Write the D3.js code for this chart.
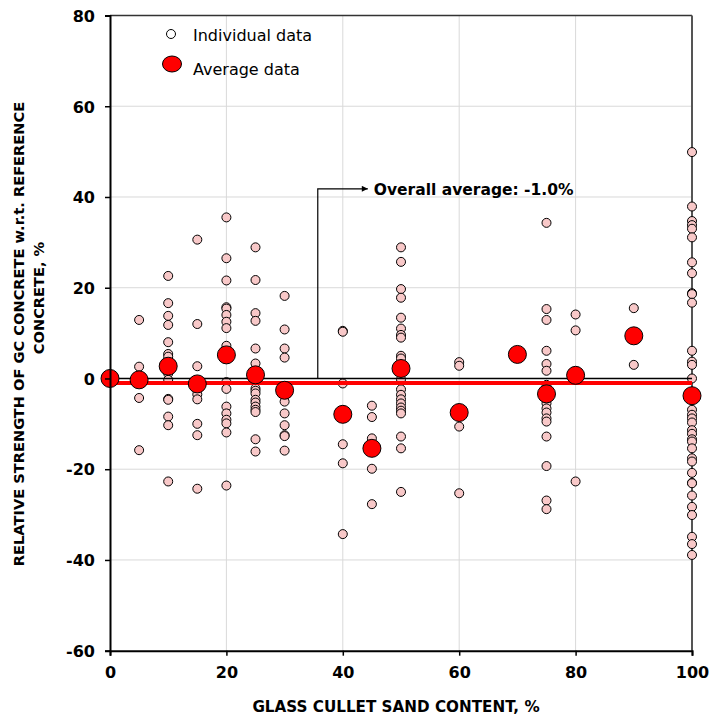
<!DOCTYPE html>
<html><head><meta charset="utf-8">
<script src="https://cdn.jsdelivr.net/npm/d3@7"></script>
<style>body{margin:0;background:#fff;}svg{display:block;}</style>
</head><body>
<svg id="chart" width="711" height="715"></svg>
<script>
// ---- data ----
const groupX = [5, 10, 15, 20, 25, 30, 40, 45, 50, 60, 75, 80, 90, 100];
const indiv5 = [12.9, 2.6, -4.3, -15.8];
const indiv10 = [22.6, 16.6, 13.8, 11.8, 8.0, 5.4, 4.8, 1.1, -0.3, -4.5, -4.7, -8.4, -10.3, -22.7];
const indiv15 = [30.6, 12.0, 2.7, -3.5, -4.6, -10.0, -12.5, -24.3];
const indiv20 = [35.5, 26.5, 21.6, 15.7, 15.4, 14.0, 12.5, 11.1, 7.2, -0.8, -2.3, -6.2, -7.7, -9.1, -9.9, -11.9, -23.6];
const indiv25 = [28.9, 21.7, 14.4, 12.7, 6.6, 3.3, -2.2, -2.7, -3.3, -4.7, -5.3, -6.2, -6.9, -7.4, -13.4, -16.1];
const indiv30 = [18.2, 10.8, 6.6, 4.6, -5.1, -7.7, -10.3, -12.5, -12.7, -15.9];
const indiv40 = [10.5, 10.3, -1.1, -14.5, -18.7, -34.3];
const indiv45 = [-6.0, -8.5, -13.2, -19.9, -27.7];
const indiv50 = [28.9, 25.7, 19.7, 17.8, 13.4, 11.0, 9.6, 9.0, 5.0, 4.4, -0.2, -2.4, -3.6, -4.6, -5.5, -6.4, -7.1, -7.7, -12.8, -15.4, -25.0];
const indiv60 = [3.6, 2.8, -10.6, -25.3];
const indiv75 = [34.3, 15.3, 12.9, 6.1, 3.2, 1.7, -1.4, -5.5, -6.6, -7.5, -8.8, -9.5, -12.8, -19.3, -26.9, -28.8];
const indiv80 = [14.1, 10.6, -22.7];
const indiv90 = [15.5, 3.0];
const indiv100 = [49.9, 37.9, 34.7, 33.8, 33.0, 31.1, 25.6, 23.2, 18.8, 18.6, 16.7, 6.1, 3.7, 3.0, 0.0,
  -6.9, -8.0, -8.8, -9.7, -11.4, -12.2, -13.4, -13.9, -15.4, -17.6, -18.3, -20.8, -23.0, -23.1, -25.8, -28.3, -30.1, -34.9, -36.5, -38.9];
const groupValues = [indiv5, indiv10, indiv15, indiv20, indiv25, indiv30, indiv40, indiv45, indiv50, indiv60, indiv75, indiv80, indiv90, indiv100];

const avgX = [0, 5, 10, 15, 20, 25, 30, 40, 45, 50, 60, 70, 75, 80, 90, 100];
const avgY = [0, -0.3, 2.7, -1.2, 5.2, 0.8, -2.6, -7.9, -15.4, 2.2, -7.5, 5.3, -3.4, 0.7, 9.4, -3.8];
const overallAverage = -1.0;

const xTicks = [0, 20, 40, 60, 80, 100];
const yTicks = [-60, -40, -20, 0, 20, 40, 60, 80];

const xTitle = "GLASS CULLET SAND CONTENT, %";
const yTitleLines = ["RELATIVE STRENGTH OF GC CONCRETE w.r.t. REFERENCE", "CONCRETE, %"];
const annotationText = "Overall average: -1.0%";
const legendLabels = ["Individual data", "Average data"];

// ---- layout ----
const W = 711, H = 715;
const m = {left: 110, right: 19, top: 15.5, bottom: 64.3};
const svg = d3.select("#chart");
const x = d3.scaleLinear().domain([0, 100]).range([m.left, W - m.right]);
const y = d3.scaleLinear().domain([-60, 80]).range([H - m.bottom, m.top]);

const boldFont = "'DejaVu Sans', Verdana, sans-serif";

// gridlines
const g = svg.append("g");
g.selectAll("line.gx").data(xTicks.filter(d => d > 0 && d < 100)).join("line")
  .attr("x1", d => x(d)).attr("x2", d => x(d)).attr("y1", y(-60)).attr("y2", y(80))
  .attr("stroke", "#d9d9d9").attr("stroke-width", 1);
g.selectAll("line.gy").data(yTicks.filter(d => d > -60 && d < 80)).join("line")
  .attr("x1", x(0)).attr("x2", x(100)).attr("y1", d => y(d)).attr("y2", d => y(d))
  .attr("stroke", "#d9d9d9").attr("stroke-width", 1);

// frame top & right
svg.append("line").attr("x1", x(0)).attr("x2", x(100)).attr("y1", y(80)).attr("y2", y(80))
  .attr("stroke", "#333").attr("stroke-width", 1.5);
svg.append("line").attr("x1", x(100)).attr("x2", x(100)).attr("y1", y(80)).attr("y2", y(-60))
  .attr("stroke", "#555").attr("stroke-width", 2);

// individual points
const pts = [];
groupX.forEach((gx, i) => groupValues[i].forEach(v => pts.push([gx, v])));
svg.append("g").selectAll("circle").data(pts).join("circle")
  .attr("cx", d => x(d[0])).attr("cy", d => y(d[1])).attr("r", 4.5)
  .attr("fill", "#f8c8c8").attr("stroke", "#000").attr("stroke-width", 1);

// zero line & overall average line
svg.append("line").attr("x1", x(0)).attr("x2", x(100)).attr("y1", y(0)).attr("y2", y(0))
  .attr("stroke", "#000").attr("stroke-width", 1.5);
svg.append("line").attr("x1", x(0)).attr("x2", x(100)).attr("y1", y(overallAverage)).attr("y2", y(overallAverage))
  .attr("stroke", "#ff0000").attr("stroke-width", 4);

// average points
svg.append("g").selectAll("circle").data(avgX.map((d, i) => [d, avgY[i]])).join("circle")
  .attr("cx", d => x(d[0])).attr("cy", d => y(d[1])).attr("r", 9)
  .attr("fill", "#ff0000").attr("stroke", "#000").attr("stroke-width", 1);

// axes
const xAxis = d3.axisBottom(x).tickValues(xTicks).tickSize(5).tickFormat(d => String(d));
const yAxis = d3.axisLeft(y).tickValues(yTicks).tickSize(5).tickFormat(d => String(d));
const gx = svg.append("g").attr("transform", `translate(0,${y(-60)})`).call(xAxis);
const gy = svg.append("g").attr("transform", `translate(${x(0)},0)`).call(yAxis);
[gx, gy].forEach(a => {
  a.select(".domain").attr("stroke", "#000").attr("stroke-width", 2);
  a.selectAll(".tick line").attr("stroke", "#000").attr("stroke-width", 1.5);
  a.selectAll(".tick text").attr("font-family", boldFont).attr("font-weight", "bold")
    .attr("font-size", 16).attr("fill", "#000");
});
gx.selectAll(".tick text").attr("dy", null).attr("y", 27);
gy.selectAll(".tick text").attr("x", -15).attr("dy", "0.36em");

// axis titles
svg.append("text").attr("x", 396).attr("y", 712).attr("text-anchor", "middle")
  .attr("font-family", boldFont).attr("font-weight", "bold").attr("font-size", 15.2).text(xTitle);
svg.append("text").attr("transform", "translate(24,334) rotate(-90)")
  .attr("text-anchor", "middle").attr("font-family", boldFont).attr("font-weight", "bold")
  .attr("font-size", 14.6).text(yTitleLines[0]);
svg.append("text").attr("transform", "translate(44,298) rotate(-90)")
  .attr("text-anchor", "middle").attr("font-family", boldFont).attr("font-weight", "bold")
  .attr("font-size", 14.6).text(yTitleLines[1]);

// annotation arrow
const ax0 = 35.7, ayTop = 41.8, ax1 = 44.3;
svg.append("defs").append("marker").attr("id", "arr").attr("viewBox", "0 0 10 10")
  .attr("refX", 10).attr("refY", 5).attr("markerWidth", 9).attr("markerHeight", 6)
  .attr("markerUnits", "userSpaceOnUse").attr("orient", "auto")
  .append("path").attr("d", "M0,0 L10,5 L0,10 z").attr("fill", "#000");
svg.append("path")
  .attr("d", `M${x(ax0)},${y(0)} L${x(ax0)},${y(ayTop)} L${x(ax1)},${y(ayTop)}`)
  .attr("fill", "none").attr("stroke", "#000").attr("stroke-width", 1.2).attr("marker-end", "url(#arr)");
svg.append("text").attr("x", x(ax1) + 6).attr("y", y(ayTop) + 6)
  .attr("font-family", boldFont).attr("font-weight", "bold").attr("font-size", 15.5).text(annotationText);

// legend
svg.append("circle").attr("cx", 171).attr("cy", 34).attr("r", 4.5)
  .attr("fill", "#fff").attr("stroke", "#000").attr("stroke-width", 1);
svg.append("ellipse").attr("cx", 172).attr("cy", 64).attr("rx", 9.5).attr("ry", 8)
  .attr("fill", "#ff0000").attr("stroke", "#000").attr("stroke-width", 1);
svg.append("text").attr("x", 193).attr("y", 41).attr("font-family", "'DejaVu Sans', sans-serif")
  .attr("font-size", 16).text(legendLabels[0]);
svg.append("text").attr("x", 193).attr("y", 75).attr("font-family", "'DejaVu Sans', sans-serif")
  .attr("font-size", 16).text(legendLabels[1]);
</script>
</body></html>
